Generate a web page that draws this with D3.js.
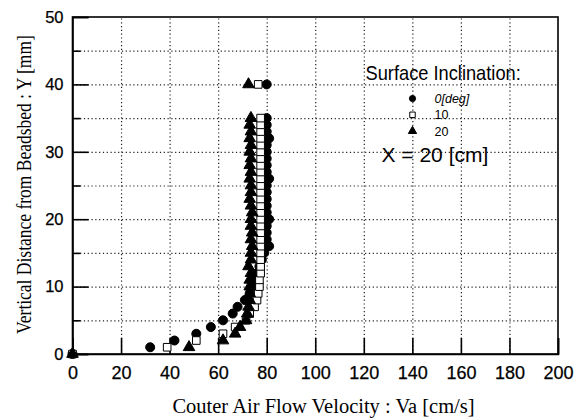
<!DOCTYPE html>
<html>
<head>
<meta charset="utf-8">
<script src="https://cdn.jsdelivr.net/npm/d3@7"></script>
<style>
  body { margin: 0; background: #fff; }
  svg { display: block; }
</style>
</head>
<body>
<div id="chart"></div>
<script>
// vertical positions Y [mm] and velocities Va [cm/s] for each inclination
const yPos = [0, 1, 2, 3, 4, 5, 6, 7, 8, 9, 10, 11, 12, 13, 14, 15, 16, 17, 18, 19,
  20, 21, 22, 23, 24, 25, 26, 27, 28, 29, 30, 31, 32, 33, 34, 35, 40];
const v0 = [0, 32, 42, 51, 57, 62, 66, 68, 71, 73, 74, 75, 76, 77, 78, 79, 81, 80, 80, 80,
  81, 80, 80, 80, 80, 80, 81, 80, 80, 80, 80, 80, 81, 80, 80, 80, 80];
const v10 = [0, 39, 51, 62, 67, 71.5, 73, 75, 76, 76.5, 77, 77, 77.5, 77.5, 77.5, 77.5, 77.5, 77.5, 77.5, 77.5,
  77.5, 77.5, 77.5, 77.5, 77.5, 77.5, 77.5, 77.5, 77.5, 77.5, 77.5, 77.5, 77.5, 77.5, 77.5, 77.5, 76.5];
const v20 = [0, 48, 62, 67, 69, 71.5, 72, 72.5, 73, 73, 73, 73, 73.5, 72.5, 73.5, 73.5, 74, 73.5, 74, 73.5,
  73.5, 74, 73.5, 73, 73.5, 73.5, 73, 73.5, 73, 73.5, 73, 73.5, 73, 73.5, 73, 73.5, 72.5];
const legendLabels = ["0[deg]", "10", "20"];
const xTicks = [0, 20, 40, 60, 80, 100, 120, 140, 160, 180, 200];
const yTicks = [0, 10, 20, 30, 40, 50];
const yMinor = [5, 15, 25, 35, 45];
const gridY = [5, 10, 15, 20, 25, 30, 35, 40, 45];

const margin = { top: 17, right: 28, bottom: 65, left: 72.5 },
  width = 586 - margin.left - margin.right,
  height = 419 - margin.top - margin.bottom;

const sans = "'Liberation Sans', Arial, sans-serif";
const serif = "'Liberation Serif', 'Times New Roman', serif";

const svg = d3.select("#chart")
  .append("svg")
  .attr("width", 586)
  .attr("height", 419)
  .append("g")
  .attr("transform", `translate(${margin.left},${margin.top})`);

const x = d3.scaleLinear().domain([0, 200]).range([0, width]);
const y = d3.scaleLinear().domain([0, 50]).range([height, 0]);

// dotted grid
svg.append("g")
  .attr("transform", `translate(0,${height})`)
  .call(d3.axisBottom(x).tickValues(xTicks.slice(1, -1)).tickSize(-height).tickFormat(""))
  .call(g => g.select(".domain").remove())
  .selectAll("line")
  .attr("stroke", "#222").attr("stroke-width", 1.2).attr("stroke-dasharray", "1.2,2.6");

svg.append("g")
  .call(d3.axisLeft(y).tickValues(gridY).tickSize(-width).tickFormat(""))
  .call(g => g.select(".domain").remove())
  .selectAll("line")
  .attr("stroke", "#222").attr("stroke-width", 1.2).attr("stroke-dasharray", "1.2,2.6");

// frame
svg.append("rect")
  .attr("width", width).attr("height", height)
  .attr("fill", "none").attr("stroke", "#000").attr("stroke-width", 1.6);

// axes with inward ticks
const xAxis = svg.append("g")
  .attr("transform", `translate(0,${height})`)
  .call(d3.axisBottom(x).tickValues(xTicks).tickSize(-16).tickPadding(12));
const yAxis = svg.append("g")
  .call(d3.axisLeft(y).tickValues(yTicks).tickSize(-16).tickPadding(9));
svg.append("g")
  .call(d3.axisLeft(y).tickValues(yMinor).tickSize(-8).tickFormat(""))
  .call(g => g.select(".domain").remove());

svg.selectAll(".tick line").filter(function () { return !this.getAttribute("stroke-dasharray"); })
  .attr("stroke-width", 1.6);
[xAxis, yAxis].forEach(a => {
  a.select(".domain").attr("stroke-width", 1.6);
  a.selectAll("text")
    .attr("font-family", sans)
    .attr("fill", "#000")
    .attr("stroke", "#000")
    .attr("stroke-width", 0.25);
});
xAxis.selectAll("text").attr("font-size", 18);
yAxis.selectAll("text").attr("font-size", 16.5);

// axis titles
svg.append("text")
  .attr("x", 251).attr("y", height + 59)
  .attr("text-anchor", "middle")
  .attr("font-family", serif)
  .attr("font-size", 20.5)
  .text("Couter Air Flow Velocity : Va [cm/s]");

svg.append("text")
  .attr("transform", `translate(${-41.5},${167.5}) rotate(-90) scale(1,1.2)`)
  .attr("text-anchor", "middle")
  .attr("font-family", serif)
  .attr("font-size", 17.5)
  .text("Vertical Distance from Beadsbed : Y [mm]");

// markers
const series = [
  { vals: v0, shape: d3.symbolCircle, size: 64, fill: "#000" },
  { vals: v10, shape: d3.symbolSquare, size: 58, fill: "#fff" },
  { vals: v20, shape: d3.symbolTriangle, size: 58, fill: "#000" }
];

series.forEach(s => {
  svg.append("g")
    .selectAll("path")
    .data(yPos)
    .join("path")
    .attr("transform", (d, i) => `translate(${x(s.vals[i])},${y(d)})`)
    .attr("d", d3.symbol().type(s.shape).size(s.size))
    .attr("fill", s.fill)
    .attr("stroke", "#000")
    .attr("stroke-width", 1);
});

// legend
svg.append("text")
  .attr("transform", "translate(293,63) scale(0.9,1)")
  .attr("font-family", sans)
  .attr("font-size", 20.3)
  .text("Surface Inclination:");

const lg = svg.append("g");
series.forEach((s, i) => {
  const cy = 81.5 + i * 16.3;
  lg.append("path")
    .attr("transform", `translate(340,${cy})`)
    .attr("d", d3.symbol().type(s.shape).size(30))
    .attr("fill", s.fill).attr("stroke", "#000").attr("stroke-width", 1);
  lg.append("text")
    .attr("x", 362).attr("y", cy + 4.5)
    .attr("font-family", sans)
    .attr("font-size", 12.5)
    .attr("font-style", i === 0 ? "italic" : "normal")
    .text(legendLabels[i]);
});

svg.append("text")
  .attr("x", 309).attr("y", 144.5)
  .attr("font-family", sans)
  .attr("font-size", 21)
  .text("X = 20 [cm]");
</script>
</body>
</html>
